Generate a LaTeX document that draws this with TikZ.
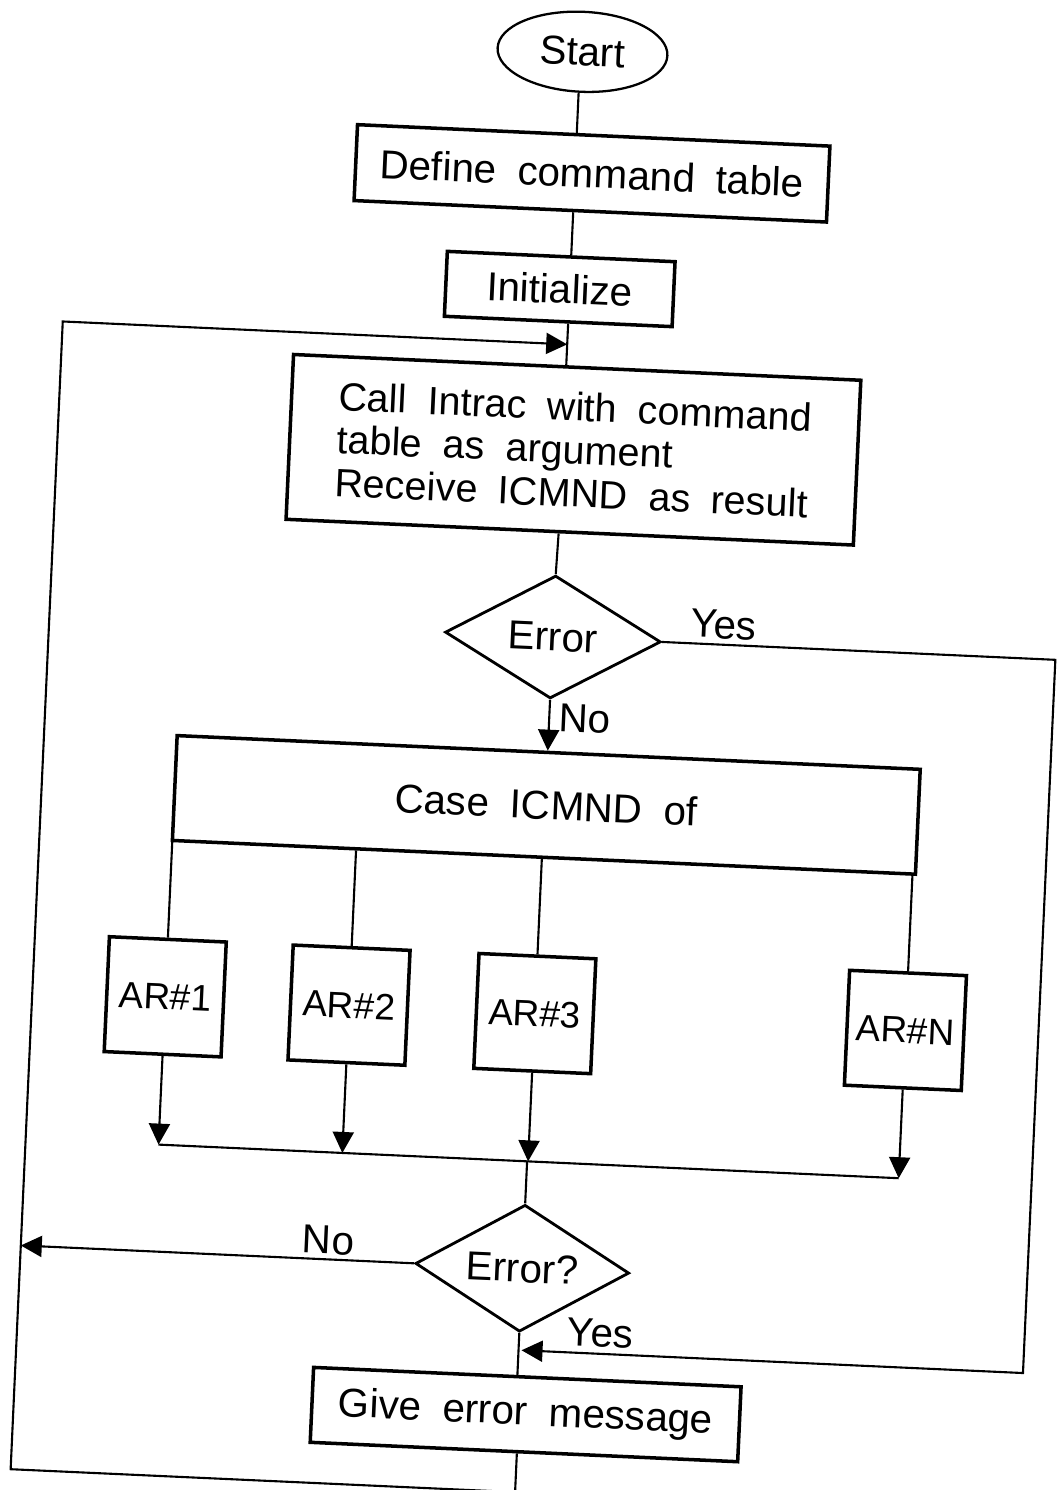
\documentclass[tikz,border=0pt]{standalone}
\usepackage{fontspec}
\setmainfont{Liberation Sans}[WordSpace=1.9]
\usetikzlibrary{shapes.geometric,arrows.meta}
\begin{document}
\begin{tikzpicture}[x=0.02cm,y=-0.02cm,
  every node/.style={font=\fontsize{23}{23.5}\selectfont},
  box/.style={draw,line width=2pt,rectangle,inner sep=0pt},
  dec/.style={draw,line width=1.6pt,diamond,inner sep=0pt,shape aspect=1.75},
  arbox/.style={box,minimum width=2.34cm,minimum height=2.3cm,font=\fontsize{21}{21}\selectfont},
  link/.style={line width=1.2pt},
  arr/.style={link,-{Triangle[length=0.42cm,width=0.42cm]}},
  lbl/.style={inner sep=1pt}]
\useasboundingbox (0,0) rectangle (1057,1490);
\begin{scope}[rotate around={-2.6:(528,745)},transform shape]
  % main spine of the flow
  \coordinate (sp) at (549,0);
  % blocks
  \node[draw,ellipse,line width=1.3pt,minimum width=3.4cm,minimum height=1.6cm,inner sep=0pt] (Start) at (551,50) {Start};
  \node[box,minimum width=9.46cm,minimum height=1.52cm] (Define) at (566,171) {Define command table};
  \node[box,minimum width=4.56cm,minimum height=1.3cm] (Init) at (539,288) {Initialize};
  \node[box,minimum width=11.36cm,minimum height=3.3cm,align=left,font=\fontsize{22.5}{24.5}\selectfont] (Call) at (560,448)
    {Call Intrac with command\\table as argument\\Receive ICMND as result};
  \node[dec,minimum width=4.32cm,minimum height=2.46cm] (Err1) at (548,636) {Error};
  \node[box,minimum width=14.88cm,minimum height=2.1cm] (Case) at (549,804) {Case ICMND of};
  \node[arbox] (AR1) at (177,1013) {AR\#1};
  \node[arbox] (AR2) at (361,1013) {AR\#2};
  \node[arbox] (AR3) at (547,1013) {AR\#3};
  \node[arbox] (ARN) at (918,1013) {AR\#N};
  \node[dec,minimum width=4.28cm,minimum height=2.54cm] (Err2) at (546,1268) {Error?};
  \node[box,minimum width=8.56cm,minimum height=1.5cm] (Give) at (556,1414) {Give error message};
  % branch labels
  \node[lbl] (yes1) at (718,616) {Yes};
  \node[lbl] (no1) at (584,716) {No};
  \node[lbl] (no2) at (351,1249) {No};
  \node[lbl] (yes2) at (627,1329) {Yes};
  % routing points
  \coordinate (loopTL) at (44,343);
  \coordinate (loopBL) at (44,1492);
  \coordinate (loopBR) at (549,1492);
  \coordinate (yesTR) at (1051,636);
  \coordinate (yesBR) at (1051,1350);
  \coordinate (col) at (0,1161);
  % straight connections
  \draw[link] (Start.south -| sp) -- (Define.north -| sp);
  \draw[link] (Define.south -| sp) -- (Init.north -| sp);
  \draw[link] (Init.south -| sp) -- (Call.north -| sp);
  \draw[link] (Call.south -| sp) -- (Err1.north);
  \draw[arr] (Err1.south) -- (Err1.south |- Case.north);
  % case branches
  \draw[link] (AR1.north |- Case.south) -- (AR1.north);
  \draw[link] (AR2.north |- Case.south) -- (AR2.north);
  \draw[link] (AR3.north |- Case.south) -- (AR3.north);
  \draw[link] (ARN.north |- Case.south) -- (ARN.north);
  \draw[arr] (AR1.south) -- (AR1.south |- col);
  \draw[arr] (AR2.south) -- (AR2.south |- col);
  \draw[arr] (AR3.south) -- (AR3.south |- col);
  \draw[arr] (ARN.south) -- (ARN.south |- col);
  \draw[link] (AR1.south |- col) -- (ARN.south |- col);
  \draw[link] (Err2.north |- col) -- (Err2.north);
  \draw[link] (Err2.south) -- (Err2.south |- Give.north);
  % error branches
  \draw[arr] (Err2.west) -- (Err2.west -| loopTL);
  \draw[arr] (Err1.east) -- (yesTR) -- (yesBR) -- (yesBR -| sp);
  % return loop
  \draw[arr] (Give.south -| sp) -- (loopBR) -- (loopBL) -- (loopTL) -- (loopTL -| sp);
\end{scope}
\end{tikzpicture}
\end{document}
